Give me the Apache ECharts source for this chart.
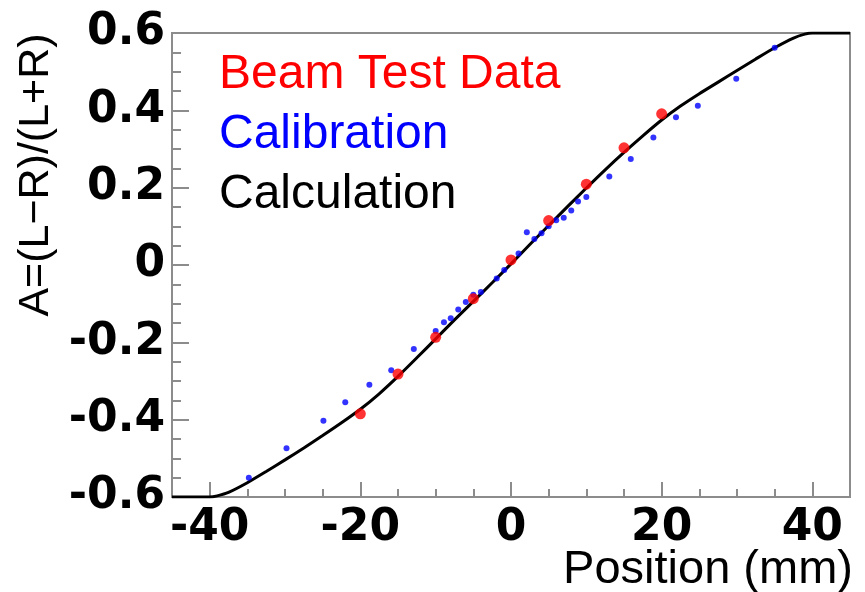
<!DOCTYPE html>
<html>
<head>
<meta charset="utf-8">
<script src="https://cdn.jsdelivr.net/npm/echarts@6/dist/echarts.min.js"></script>
<style>html,body{margin:0;padding:0;background:#fff;}#c{width:865px;height:592px;}</style>
</head>
<body>
<div id="c"></div>
<script>
// ---- data ----
const calcX = [-45, -40, -39, -37.5, -35, -32.5, -30, -27.5, -25, -22.5, -20, -17.5, -15, -12.5, -10, -7.5, -5, -2.5, 0,
               2.5, 5, 7.5, 10, 12.5, 15, 17.5, 20, 22.5, 25, 27.5, 30, 32.5, 35, 37.5, 39, 40, 45];
const calcY = [-0.6, -0.6, -0.597, -0.588, -0.563, -0.534, -0.504, -0.473, -0.441, -0.408, -0.373, -0.333, -0.288, -0.240, -0.191, -0.142, -0.094, -0.046, 0.003,
               0.053, 0.102, 0.151, 0.199, 0.246, 0.291, 0.334, 0.375, 0.411, 0.443, 0.473, 0.503, 0.533, 0.562, 0.587, 0.597, 0.6, 0.6];

const calibX = [-34.8, -29.8, -24.9, -22.0, -18.8, -15.9, -12.9, -10.0, -8.9, -8.0, -7.0, -6.0, -5.0, -4.0, -1.9, -0.9,
                1.0, 2.1, 3.1, 4.05, 5.0, 6.0, 7.0, 8.0, 8.9, 10.0, 13.05, 15.9, 18.9, 21.9, 24.8, 29.9, 35.0];
const calibY = [-0.55, -0.474, -0.403, -0.355, -0.31, -0.272, -0.217, -0.171, -0.148, -0.138, -0.115, -0.096, -0.077, -0.07, -0.035, -0.013,
                0.03, 0.085, 0.067, 0.082, 0.1, 0.116, 0.122, 0.141, 0.164, 0.176, 0.229, 0.274, 0.33, 0.382, 0.412, 0.482, 0.562];

const beamX = [-20, -15, -10, -5, 0, 5, 10, 15, 20];
const beamY = [-0.385, -0.282, -0.187, -0.087, 0.013, 0.115, 0.209, 0.303, 0.391];

const xMajorTicks = [-40, -20, 0, 20, 40];
const xMinorTicks = [-35, -30, -25, -15, -10, -5, 5, 10, 15, 25, 30, 35];
const seriesNames = ['Beam Test Data', 'Calibration', 'Calculation'];

const zip = (xs, ys) => xs.map((x, i) => [x, ys[i]]);

// ---- chart ----
const chart = echarts.init(document.getElementById('c'));
const gray = '#8c8c8c';
const tickFont = { fontFamily: 'DejaVu Sans', fontWeight: 'bold', fontSize: 44, color: '#000' };

chart.setOption({
  animation: false,
  backgroundColor: '#fff',
  grid: { left: 172, right: 15, top: 33, bottom: 95, outerBoundsMode: 'none', containLabel: false,
          show: true, borderColor: gray, borderWidth: 2, backgroundColor: 'transparent' },
  legend: {
    data: [
      { name: seriesNames[0], textStyle: { color: '#ff0000' } },
      { name: seriesNames[1], textStyle: { color: '#0000ff' } },
      { name: seriesNames[2], textStyle: { color: '#000000' } }
    ],
    orient: 'vertical', left: 209, top: 42, icon: 'none', itemWidth: 0, itemHeight: 0, itemGap: 4,
    selectedMode: false,
    textStyle: { fontFamily: 'Liberation Sans', fontSize: 48, lineHeight: 56 }
  },
  xAxis: [{
    type: 'value', min: -45, max: 45,
    splitLine: { show: false },
    axisLine: { show: true, onZero: false, lineStyle: { color: gray, width: 2 } },
    axisTick: { show: true, inside: true, length: 15, customValues: xMajorTicks, lineStyle: { color: gray, width: 2 } },
    axisLabel: Object.assign({ customValues: xMajorTicks, margin: 10 }, tickFont),
    name: 'Position (mm)', nameLocation: 'middle', nameGap: 50, nameMoveOverlap: false,
    nameTextStyle: { fontFamily: 'Liberation Sans', fontSize: 47, color: '#000', padding: [0, 0, 0, 394] }
  }, {
    type: 'value', min: -45, max: 45, position: 'bottom',
    splitLine: { show: false },
    axisLine: { show: false, onZero: false },
    axisTick: { show: true, inside: true, length: 8, customValues: xMinorTicks, lineStyle: { color: gray, width: 2 } },
    axisLabel: { show: false }
  }],
  yAxis: {
    type: 'value', min: -0.6, max: 0.6, interval: 0.2,
    splitLine: { show: false },
    axisLine: { show: true, onZero: false, lineStyle: { color: gray, width: 2 } },
    axisTick: { show: true, inside: true, length: 17, lineStyle: { color: gray, width: 2 } },
    minorTick: { show: true, splitNumber: 4, length: 9, lineStyle: { color: gray, width: 2 } },
    axisLabel: Object.assign({ margin: 7, formatter: v => Math.abs(v) < 1e-9 ? '0' : v.toFixed(1) }, tickFont),
    name: 'A=(L\u2212R)/(L+R)', nameLocation: 'middle', nameGap: 114, nameMoveOverlap: false,
    nameTextStyle: { fontFamily: 'Liberation Sans', fontSize: 43, color: '#000', padding: [0, 0, 0, 180] }
  },
  series: [
    { name: seriesNames[2], type: 'line', data: zip(calcX, calcY), showSymbol: false, symbol: 'none', smooth: 0.25,
      lineStyle: { color: '#000', width: 3 }, itemStyle: { color: '#000' }, z: 2 },
    { name: seriesNames[1], type: 'scatter', data: zip(calibX, calibY), symbol: 'circle', symbolSize: 6,
      itemStyle: { color: '#0000ff' }, z: 3 },
    { name: seriesNames[0], type: 'scatter', data: zip(beamX, beamY), symbol: 'circle', symbolSize: 11,
      itemStyle: { color: '#ff0000' }, z: 4 }
  ]
});
</script>
</body>
</html>
